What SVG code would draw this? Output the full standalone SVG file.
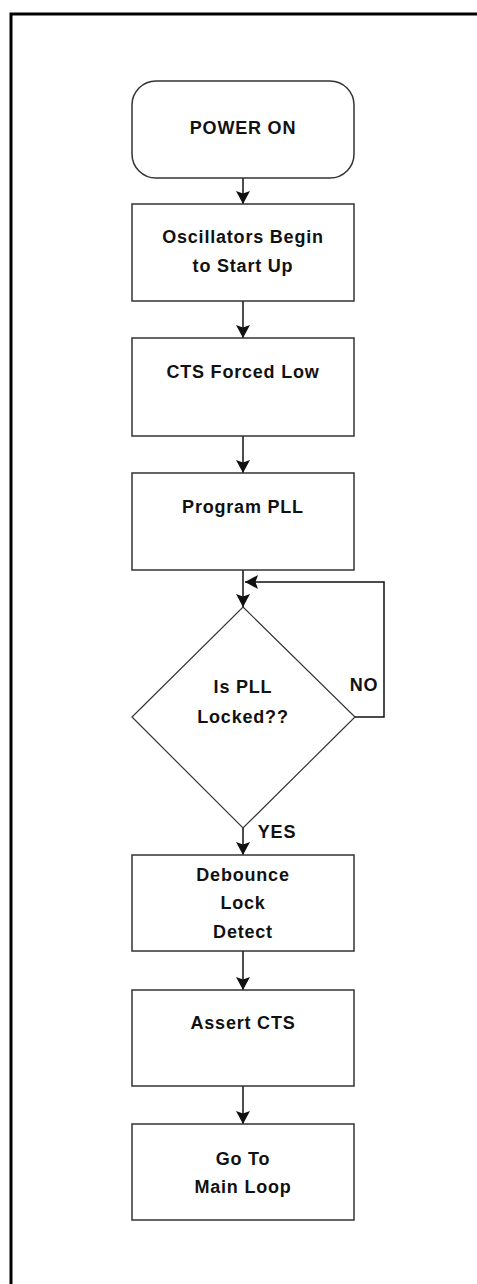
<svg xmlns="http://www.w3.org/2000/svg" width="477" height="1284" viewBox="0 0 477 1284">
<style>
.box{fill:#fff;stroke:#333;stroke-width:1.5}
.dia{fill:#fff;stroke:#333;stroke-width:1.2}
.lbl{font-family:"Liberation Sans",Arial,sans-serif;font-weight:bold;font-size:18px;letter-spacing:0.8px;fill:#111;text-anchor:middle;dominant-baseline:central}
.con{fill:none;stroke:#111;stroke-width:1.5}
</style>
<defs>
<marker id="ah" viewBox="0 0 14 14" refX="14" refY="7" markerWidth="14" markerHeight="14" markerUnits="userSpaceOnUse" orient="auto">
<path d="M1,0 L3.5,7 L1,14 L14,7 Z" fill="#111"/>
</marker>
</defs>
<g id="frame">
<path d="M11,1284 L11,14 L477,14" fill="none" stroke="#000" stroke-width="3"/>
</g>
<g id="connectors">
<line class="con" x1="243" y1="178" x2="243" y2="204" marker-end="url(#ah)"/>
<line class="con" x1="243" y1="301" x2="243" y2="338" marker-end="url(#ah)"/>
<line class="con" x1="243" y1="436" x2="243" y2="473" marker-end="url(#ah)"/>
<line class="con" x1="243" y1="570" x2="243" y2="607" marker-end="url(#ah)"/>
<polyline class="con" points="355,717 384,717 384,582 245,582" marker-end="url(#ah)"/>
<line class="con" x1="243" y1="828" x2="243" y2="855" marker-end="url(#ah)"/>
<line class="con" x1="243" y1="951" x2="243" y2="990" marker-end="url(#ah)"/>
<line class="con" x1="243" y1="1086" x2="243" y2="1124" marker-end="url(#ah)"/>
<text class="lbl" x="364" y="685">NO</text>
<text class="lbl" x="277" y="832">YES</text>
</g>
<g id="power_on">
<rect class="box" x="132" y="81" width="222" height="97" rx="24" ry="24"/>
<text class="lbl" x="243" y="128">POWER ON</text>
</g>
<g id="oscillators">
<rect class="box" x="132" y="204" width="222" height="97"/>
<text class="lbl" x="243" y="237">Oscillators Begin</text>
<text class="lbl" x="243" y="266">to Start Up</text>
</g>
<g id="cts_low">
<rect class="box" x="132" y="338" width="222" height="98"/>
<text class="lbl" x="243" y="372">CTS Forced Low</text>
</g>
<g id="program_pll">
<rect class="box" x="132" y="473" width="222" height="97"/>
<text class="lbl" x="243" y="507">Program PLL</text>
</g>
<g id="pll_locked">
<polygon class="dia" points="243,607 355,717 243,828 132,717"/>
<text class="lbl" x="243" y="687">Is PLL</text>
<text class="lbl" x="243" y="717">Locked??</text>
</g>
<g id="debounce">
<rect class="box" x="132" y="855" width="222" height="96"/>
<text class="lbl" x="243" y="875">Debounce</text>
<text class="lbl" x="243" y="903">Lock</text>
<text class="lbl" x="243" y="932">Detect</text>
</g>
<g id="assert_cts">
<rect class="box" x="132" y="990" width="222" height="96"/>
<text class="lbl" x="243" y="1023">Assert CTS</text>
</g>
<g id="main_loop">
<rect class="box" x="132" y="1124" width="222" height="96"/>
<text class="lbl" x="243" y="1159">Go To</text>
<text class="lbl" x="243" y="1187">Main Loop</text>
</g>
</svg>
